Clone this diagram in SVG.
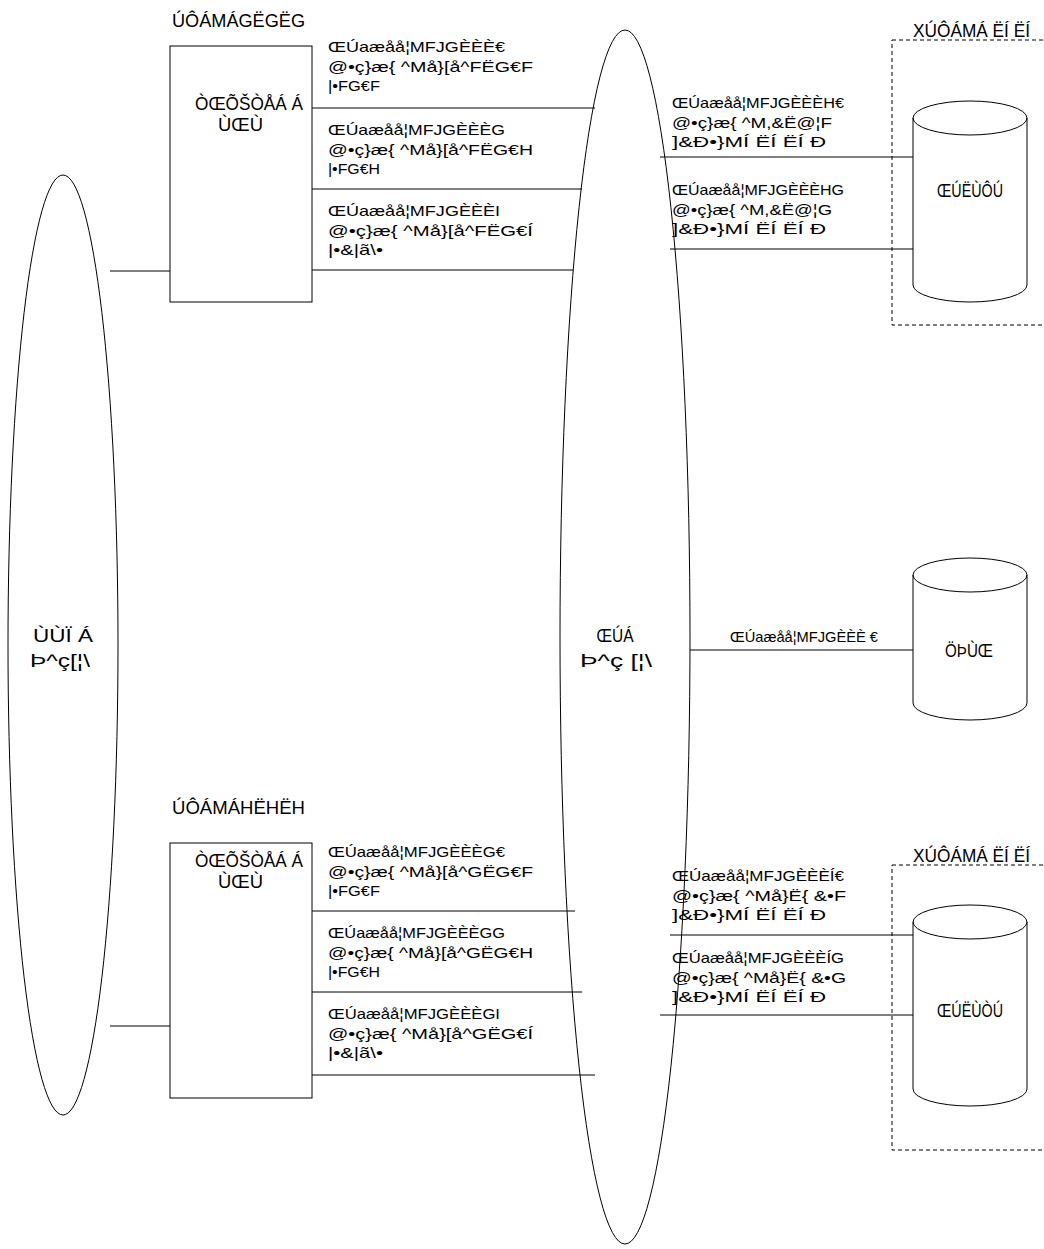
<svg xmlns="http://www.w3.org/2000/svg" width="1044" height="1249" viewBox="0 0 1044 1249">
<style>
.s{fill:none;stroke:#000;stroke-width:1}
.d{fill:none;stroke:#000;stroke-width:1;stroke-dasharray:4,3}
.t{font-family:"Liberation Sans",Arial,sans-serif;font-size:15px;fill:#000}
.b{font-family:"Liberation Sans",Arial,sans-serif;font-size:19px;fill:#000}
.m{text-anchor:middle}
</style>
<rect width="1044" height="1249" fill="#fff"/>
<g id="connectors">
<line class="s" x1="110" y1="271" x2="170" y2="271"/>
<line class="s" x1="110" y1="1026" x2="170" y2="1026"/>
<line class="s" x1="312" y1="108" x2="595" y2="108"/>
<line class="s" x1="312" y1="189" x2="582" y2="189"/>
<line class="s" x1="312" y1="270" x2="573" y2="270"/>
<line class="s" x1="660" y1="157" x2="913" y2="157"/>
<line class="s" x1="670" y1="249" x2="913" y2="249"/>
<line class="s" x1="690" y1="650" x2="913" y2="650"/>
<line class="s" x1="312" y1="911" x2="575" y2="911"/>
<line class="s" x1="312" y1="992" x2="582" y2="992"/>
<line class="s" x1="312" y1="1075" x2="595" y2="1075"/>
<line class="s" x1="670" y1="935" x2="913" y2="935"/>
<line class="s" x1="660" y1="1015" x2="913" y2="1015"/>
</g>
<g id="ellipse-left">
<ellipse class="s" cx="63" cy="645" rx="55" ry="470"/>
<text class="b m" x="63" y="642" textLength="60" lengthAdjust="spacingAndGlyphs">ÙÙÏ Á</text>
<text class="b m" x="60" y="667" textLength="60" lengthAdjust="spacingAndGlyphs">Þ^ç[¦\</text>
</g>
<g id="ellipse-mid">
<ellipse class="s" cx="625" cy="637" rx="65" ry="607"/>
<text class="b m" x="615" y="642" textLength="37" lengthAdjust="spacingAndGlyphs">ŒÚÁ</text>
<text class="b m" x="616" y="667" textLength="72" lengthAdjust="spacingAndGlyphs">Þ^ç [¦\</text>
</g>
<g id="group-top">
<text class="b" x="172" y="27" textLength="133" lengthAdjust="spacingAndGlyphs">ÚÔÁMÁGËGËG</text>
<rect class="s" x="170" y="46" width="142" height="256"/>
<text class="b" x="195" y="110" textLength="108" lengthAdjust="spacingAndGlyphs">ÒŒÕŠÒÅÁ Á</text>
<text class="b" x="218" y="131" textLength="45" lengthAdjust="spacingAndGlyphs">ÙŒÙ</text>
</g>
<g id="labels-top">
<text class="t" x="328" y="52" textLength="177" lengthAdjust="spacingAndGlyphs">ŒÚaæåå¦MFJGÈÈÈ€</text>
<text class="t" x="328" y="72" textLength="205" lengthAdjust="spacingAndGlyphs">@•ç}æ{ ^Må}[å^FËG€F</text>
<text class="t" x="328" y="91" textLength="52" lengthAdjust="spacingAndGlyphs">|•FG€F</text>
<text class="t" x="328" y="135" textLength="177" lengthAdjust="spacingAndGlyphs">ŒÚaæåå¦MFJGÈÈÈG</text>
<text class="t" x="328" y="155" textLength="205" lengthAdjust="spacingAndGlyphs">@•ç}æ{ ^Må}[å^FËG€H</text>
<text class="t" x="328" y="174" textLength="52" lengthAdjust="spacingAndGlyphs">|•FG€H</text>
<text class="t" x="328" y="216" textLength="172" lengthAdjust="spacingAndGlyphs">ŒÚaæåå¦MFJGÈÈÈI</text>
<text class="t" x="328" y="236" textLength="205" lengthAdjust="spacingAndGlyphs">@•ç}æ{ ^Må}[å^FËG€Í</text>
<text class="t" x="328" y="255" textLength="55" lengthAdjust="spacingAndGlyphs">|•&amp;|ã\•</text>
</g>
<g id="storage-top">
<rect class="d" x="892" y="40" width="160" height="285"/>
<text class="b" x="913" y="37" textLength="117" lengthAdjust="spacingAndGlyphs">XÚÔÁMÁ ËÍ ËÍ</text>
<path class="s" d="M913,118 A57,17 0 0 1 1027,118 A57,17 0 0 1 913,118 M913,118 V285 A57,17 0 0 0 1027,285 V118"/>
<text class="b" x="937" y="197" textLength="66" lengthAdjust="spacingAndGlyphs">ŒÚËÙÔÚ</text>
</g>
<g id="labels-right-top">
<text class="t" x="672" y="108" textLength="172" lengthAdjust="spacingAndGlyphs">ŒÚaæåå¦MFJGÈÈÈH€</text>
<text class="t" x="672" y="128" textLength="160" lengthAdjust="spacingAndGlyphs">@•ç}æ{ ^M,&amp;Ë@¦F</text>
<text class="t" x="672" y="147" textLength="154" lengthAdjust="spacingAndGlyphs">]&amp;Ð•}MÍ ËÍ ËÍ Ð</text>
<text class="t" x="672" y="195" textLength="172" lengthAdjust="spacingAndGlyphs">ŒÚaæåå¦MFJGÈÈÈHG</text>
<text class="t" x="672" y="215" textLength="160" lengthAdjust="spacingAndGlyphs">@•ç}æ{ ^M,&amp;Ë@¦G</text>
<text class="t" x="672" y="234" textLength="154" lengthAdjust="spacingAndGlyphs">]&amp;Ð•}MÍ ËÍ ËÍ Ð</text>
</g>
<g id="storage-mid">
<path class="s" d="M913,575 A57,17 0 0 1 1027,575 A57,17 0 0 1 913,575 M913,575 V703 A57,17 0 0 0 1027,703 V575"/>
<text class="b" x="945" y="657" textLength="48" lengthAdjust="spacingAndGlyphs">ÖÞÙŒ</text>
<text class="t" x="730" y="642" textLength="148" lengthAdjust="spacingAndGlyphs">ŒÚaæåå¦MFJGÈÈÈ €</text>
</g>
<g id="group-bottom">
<text class="b" x="172" y="814" textLength="133" lengthAdjust="spacingAndGlyphs">ÚÔÁMÁHËHËH</text>
<rect class="s" x="170" y="843" width="142" height="255"/>
<text class="b" x="195" y="867" textLength="108" lengthAdjust="spacingAndGlyphs">ÒŒÕŠÒÅÁ Á</text>
<text class="b" x="218" y="888" textLength="45" lengthAdjust="spacingAndGlyphs">ÙŒÙ</text>
</g>
<g id="labels-bottom">
<text class="t" x="328" y="857" textLength="177" lengthAdjust="spacingAndGlyphs">ŒÚaæåå¦MFJGÈÈÈG€</text>
<text class="t" x="328" y="877" textLength="205" lengthAdjust="spacingAndGlyphs">@•ç}æ{ ^Må}[å^GËG€F</text>
<text class="t" x="328" y="896" textLength="52" lengthAdjust="spacingAndGlyphs">|•FG€F</text>
<text class="t" x="328" y="938" textLength="177" lengthAdjust="spacingAndGlyphs">ŒÚaæåå¦MFJGÈÈÈGG</text>
<text class="t" x="328" y="958" textLength="205" lengthAdjust="spacingAndGlyphs">@•ç}æ{ ^Må}[å^GËG€H</text>
<text class="t" x="328" y="977" textLength="52" lengthAdjust="spacingAndGlyphs">|•FG€H</text>
<text class="t" x="328" y="1019" textLength="172" lengthAdjust="spacingAndGlyphs">ŒÚaæåå¦MFJGÈÈÈGI</text>
<text class="t" x="328" y="1039" textLength="205" lengthAdjust="spacingAndGlyphs">@•ç}æ{ ^Må}[å^GËG€Í</text>
<text class="t" x="328" y="1058" textLength="55" lengthAdjust="spacingAndGlyphs">|•&amp;|ã\•</text>
</g>
<g id="storage-bottom">
<rect class="d" x="892" y="865" width="160" height="285"/>
<text class="b" x="913" y="862" textLength="117" lengthAdjust="spacingAndGlyphs">XÚÔÁMÁ ËÍ ËÍ</text>
<path class="s" d="M913,922 A57,17 0 0 1 1027,922 A57,17 0 0 1 913,922 M913,922 V1089 A57,17 0 0 0 1027,1089 V922"/>
<text class="b" x="937" y="1017" textLength="66" lengthAdjust="spacingAndGlyphs">ŒÚËÙÒÚ</text>
</g>
<g id="labels-right-bottom">
<text class="t" x="672" y="881" textLength="172" lengthAdjust="spacingAndGlyphs">ŒÚaæåå¦MFJGÈÈÈÍ€</text>
<text class="t" x="672" y="901" textLength="174" lengthAdjust="spacingAndGlyphs">@•ç}æ{ ^Må}Ë{ &amp;•F</text>
<text class="t" x="672" y="920" textLength="154" lengthAdjust="spacingAndGlyphs">]&amp;Ð•}MÍ ËÍ ËÍ Ð</text>
<text class="t" x="672" y="963" textLength="172" lengthAdjust="spacingAndGlyphs">ŒÚaæåå¦MFJGÈÈÈÍG</text>
<text class="t" x="672" y="983" textLength="174" lengthAdjust="spacingAndGlyphs">@•ç}æ{ ^Må}Ë{ &amp;•G</text>
<text class="t" x="672" y="1002" textLength="154" lengthAdjust="spacingAndGlyphs">]&amp;Ð•}MÍ ËÍ ËÍ Ð</text>
</g>
</svg>
